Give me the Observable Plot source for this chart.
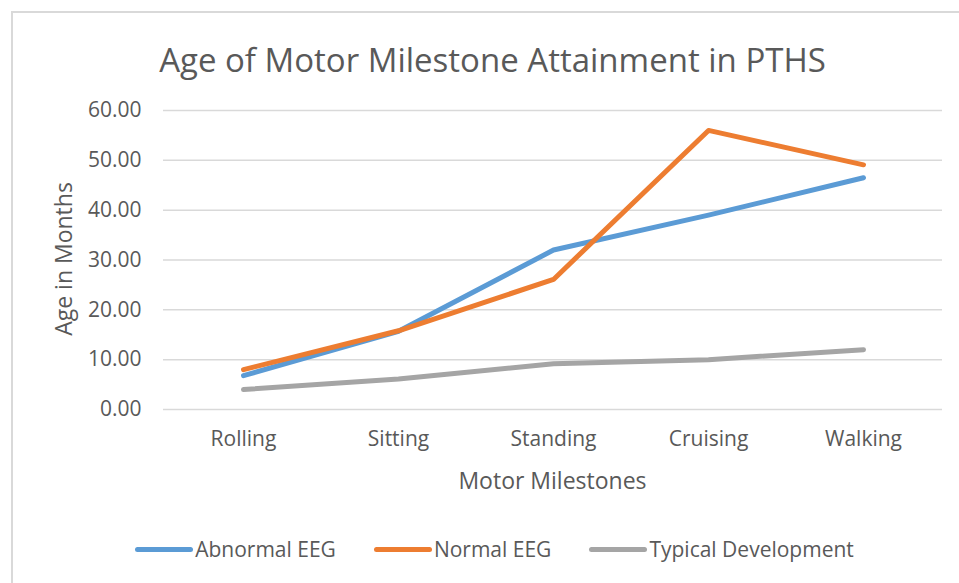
<!DOCTYPE html>
<html>
<head>
<meta charset="utf-8">
<script src="https://cdn.jsdelivr.net/npm/d3@7"></script>
<script src="https://cdn.jsdelivr.net/npm/@observablehq/plot@0.6"></script>
<style>
  html, body { margin: 0; padding: 0; background: #fff; }
  #wrap { position: relative; width: 959px; height: 583px; overflow: hidden; font-family: "Open Sans", sans-serif; color: #595959; }
  #frame { position: absolute; left: 11px; top: 11px; width: 960px; height: 600px; border: 2px solid #d9d9d9; box-sizing: border-box; }
  #title { position: absolute; left: 0; top: 38px; width: 985px; text-align: center; font-size: 33px; line-height: 44px; font-weight: 400; white-space: nowrap; }
  #xlabel { position: absolute; left: 163px; width: 779px; top: 464px; text-align: center; font-size: 23px; line-height: 32px; }
  #ylabel { position: absolute; left: 63px; top: 259px; transform: translate(-50%, -50%) rotate(-90deg); font-size: 23px; line-height: 32px; white-space: nowrap; }
  #legend { position: absolute; left: 0; width: 989px; top: 535px; display: flex; justify-content: center; gap: 38px; font-size: 21px; line-height: 28px; }
  .item { display: flex; align-items: center; }
  .sw { display: inline-block; width: 58px; height: 5px; border-radius: 3px; margin-right: 2px; }
  #chart { position: absolute; left: 0; top: 0; }
</style>
</head>
<body>
<div id="wrap">
  <div id="frame"></div>
  <div id="chart"></div>
  <div id="title">Age of Motor Milestone Attainment in PTHS</div>
  <div id="ylabel">Age in Months</div>
  <div id="xlabel">Motor Milestones</div>
  <div id="legend"></div>
</div>
<script>
const milestones = ["Rolling", "Sitting", "Standing", "Cruising", "Walking"];
const seriesNames = ["Abnormal EEG", "Normal EEG", "Typical Development"];
const abnormalEEG = [6.8, 15.7, 32.0, 39.0, 46.5];
const normalEEG = [8.0, 15.8, 26.1, 56.0, 49.1];
const typicalDev = [4.0, 6.1, 9.2, 10.0, 12.0];
const yTicks = [0, 10, 20, 30, 40, 50, 60];
const colors = ["#5B9BD5", "#ED7D31", "#A5A5A5"];

const valuesBySeries = [abnormalEEG, normalEEG, typicalDev];
const data = [];
seriesNames.forEach((s, i) => milestones.forEach((m, j) => data.push({series: s, milestone: m, value: valuesBySeries[i][j]})));

const chart = Plot.plot({
  width: 959,
  height: 583,
  marginLeft: 163,
  marginRight: 17,
  marginTop: 110,
  marginBottom: 174,
  style: {fontFamily: "'Open Sans', sans-serif", fontSize: "21px", color: "#595959", background: "transparent"},
  x: {type: "point", domain: milestones, padding: 0.5, label: null, tickSize: 0, tickPadding: 22},
  y: {domain: [0, 60], ticks: yTicks, tickFormat: d3.format(".2f"), label: null, tickSize: 0, tickPadding: 22},
  color: {domain: seriesNames, range: colors},
  marks: [
    Plot.ruleY(yTicks, {stroke: "#d9d9d9", strokeWidth: 1.5, strokeOpacity: 1}),
    Plot.axisX({tickSize: 0, tickPadding: 22, fontSize: 21, fill: "#595959", label: null}),
    Plot.axisY({ticks: yTicks, tickFormat: d3.format(".2f"), tickSize: 0, tickPadding: 22, fontSize: 21, fill: "#595959", label: null}),
    Plot.line(data, {x: "milestone", y: "value", z: "series", stroke: "series", strokeWidth: 5, strokeLinecap: "round", strokeLinejoin: "round"})
  ]
});
document.getElementById("chart").appendChild(chart);

const legend = document.getElementById("legend");
seriesNames.forEach((s, i) => {
  const it = document.createElement("div");
  it.className = "item";
  it.innerHTML = `<span class="sw" style="background:${colors[i]}"></span><span>${s}</span>`;
  legend.appendChild(it);
});
</script>
</body>
</html>
